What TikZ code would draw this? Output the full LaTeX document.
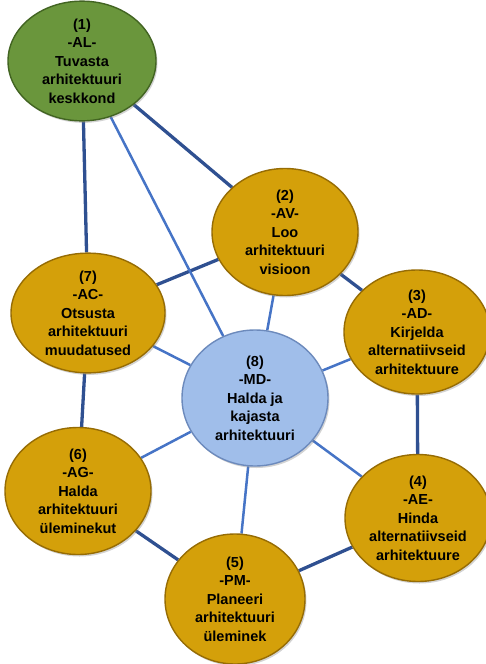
\documentclass[tikz,border=0pt]{standalone}
\usepackage{fontspec}
\setmainfont{Liberation Sans}
\usetikzlibrary{shapes.geometric,shadows,backgrounds}
\definecolor{gold}{RGB}{212,160,10}
\definecolor{golddark}{RGB}{150,108,4}
\definecolor{leaf}{RGB}{106,150,60}
\definecolor{leafdark}{RGB}{66,100,34}
\definecolor{sky}{RGB}{160,190,234}
\definecolor{skydark}{RGB}{108,138,188}
\definecolor{ringline}{RGB}{47,80,145}
\definecolor{hubline}{RGB}{70,116,198}
\tikzset{
  phase/.style={ellipse, minimum width=146pt, minimum height=127pt, inner sep=0pt,
    align=center, font=\bfseries\fontsize{14.5}{18.5}\selectfont, text=black,
    line width=1.4pt, drop shadow={shadow xshift=1.5pt, shadow yshift=-2pt, opacity=0.35}},
  goldphase/.style={phase, fill=gold, draw=golddark},
  leafphase/.style={phase, fill=leaf, draw=leafdark},
  hubphase/.style={phase, fill=sky, draw=skydark},
  ringlink/.style={draw=ringline, line width=3.3pt},
  hublink/.style={draw=hubline, line width=2.5pt}
}
\begin{document}
\begin{tikzpicture}[x=1pt,y=-1pt]
\useasboundingbox (0,0) rectangle (486,664);
\node[leafphase, minimum width=148pt, minimum height=118pt] (al) at (82,61) {(1)\\-AL-\\Tuvasta\\arhitektuuri\\keskkond};
\node[goldphase] (av) at (285,232) {(2)\\-AV-\\Loo\\arhitektuuri\\visioon};
\node[goldphase, minimum height=124pt] (ad) at (417,332) {(3)\\-AD-\\Kirjelda\\alternatiivseid\\arhitektuure};
\node[goldphase] (ae) at (418,518) {(4)\\-AE-\\Hinda\\alternatiivseid\\arhitektuure};
\node[goldphase, minimum width=140pt, minimum height=130pt] (pm) at (235,599) {(5)\\-PM-\\Planeeri\\arhitektuuri\\üleminek};
\node[goldphase] (ag) at (78,491) {(6)\\-AG-\\Halda\\arhitektuuri\\üleminekut};
\node[goldphase, minimum width=154pt, minimum height=118pt] (ac) at (88,313) {(7)\\-AC-\\Otsusta\\arhitektuuri\\muudatused};
\node[hubphase, minimum width=146pt, minimum height=136pt] (md) at (255,398) {(8)\\-MD-\\Halda ja\\kajasta\\arhitektuuri};
\begin{scope}[on background layer]
  \draw[ringlink] (al) -- (av);
  \draw[ringlink] (av) -- (ad);
  \draw[ringlink] (ad) -- (ae);
  \draw[ringlink] (ae) -- (pm);
  \draw[ringlink] (pm) -- (ag);
  \draw[ringlink] (ag) -- (ac);
  \draw[ringlink] (ac) -- (al);
  \draw[ringlink] (ac) -- (av);
  \foreach \n in {al,av,ad,ae,pm,ag,ac}
    \draw[hublink] (md) -- (\n);
\end{scope}
\end{tikzpicture}
\end{document}
